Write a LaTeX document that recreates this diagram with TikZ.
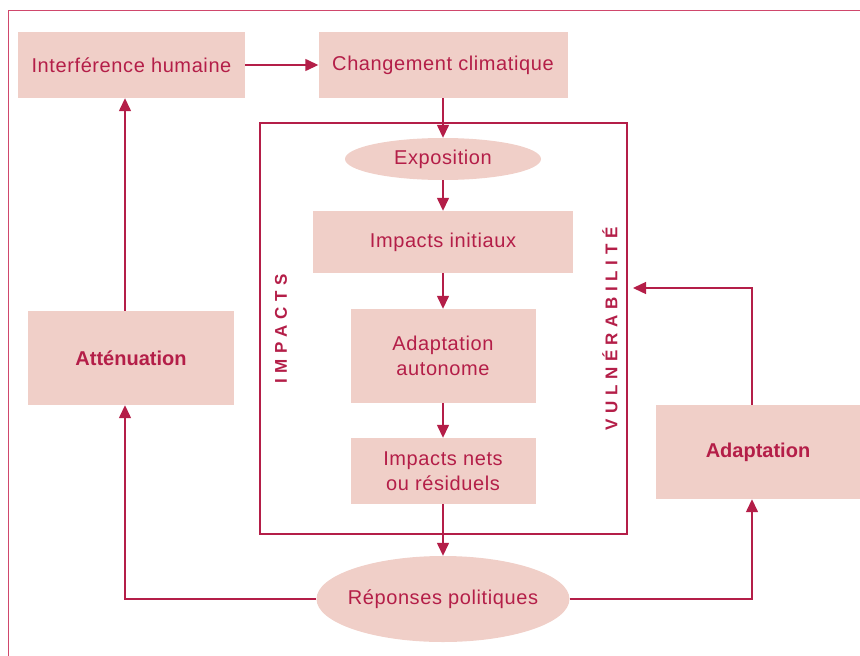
\documentclass[tikz,border=0pt]{standalone}
\usepackage{fontspec}
\setmainfont{Liberation Sans}
\usetikzlibrary{arrows.meta,shapes.geometric}
\definecolor{boxfill}{RGB}{240,207,200}
\definecolor{ink}{RGB}{180,30,72}
\definecolor{framecol}{RGB}{208,72,108}
\begin{document}
\begin{tikzpicture}[x=1pt,y=-1pt,
  txt/.style={text=ink,font=\fontsize{20}{25}\selectfont\addfontfeature{LetterSpace=3},align=center,inner sep=0pt},
  box/.style={txt,fill=boxfill,draw=none},
  boldbox/.style={box,font=\bfseries\fontsize{20}{25}\selectfont},
  oval/.style={fill=boxfill,draw=none,ellipse,inner sep=0pt},
  conn/.style={draw=ink,line width=1.4pt,-{Triangle[length=13pt,width=12pt]}},
  sidelabel/.style={rotate=90,text=ink,inner sep=0pt,font=\bfseries\fontsize{17}{17}\selectfont\addfontfeature{LetterSpace=33}}
]
\useasboundingbox (0,0) rectangle (860,656);
\draw[framecol,line width=1.5pt] (8.5,656) -- (8.5,10.5) -- (860,10.5);

\node[draw=ink,line width=1.3pt,minimum width=367pt,minimum height=411pt,inner sep=0pt] (inner) at (443.5,328.5) {};

\node[box,minimum width=227pt,minimum height=66pt] (ih) at (131.5,65) {Interférence humaine};
\node[box,minimum width=249pt,minimum height=66pt] (ch) at (443,65) {Changement climatique};
\node[oval,minimum width=196pt,minimum height=42pt,label={[txt]center:Exposition}] (ex) at (443,159) {};
\node[box,minimum width=260pt,minimum height=62pt] (ii) at (443,242) {Impacts initiaux};
\node[box,minimum width=185pt,minimum height=94pt] (aa) at (443,356) {Adaptation\\autonome};
\node[box,minimum width=185pt,minimum height=66pt] (nets) at (443,471) {Impacts nets\\ou résiduels};
\node[oval,minimum width=253pt,minimum height=86pt,label={[txt]center:Réponses politiques}] (rp) at (443,599) {};
\node[boldbox,minimum width=206pt,minimum height=94pt] (att) at (131,358) {Atténuation};
\node[boldbox,minimum width=204pt,minimum height=94pt] (ad) at (758,452) {Adaptation};

\node[sidelabel] (imp) at (281,329) {IMPACTS};
\node[sidelabel] (vul) at (610,329) {VULNÉRABILITÉ};

\coordinate (vt) at (633,288);

\draw[conn] (ih.east) -- (ch.west);
\draw[conn] (ch.south) -- (ex.north);
\draw[conn] (ex.south) -- (ii.north);
\draw[conn] (ii.south) -- (aa.north);
\draw[conn] (aa.south) -- (nets.north);
\draw[conn] (nets.south) -- (rp.north);
\draw[conn] ([xshift=-6pt]att.north) -- ([xshift=-6pt]att.north |- ih.south);
\draw[conn] (rp.west) -| ([xshift=-6pt]att.south);
\draw[conn] (rp.east) -| ([xshift=-6pt]ad.south);
\draw[conn] ([xshift=-6pt]ad.north) |- (vt);
\end{tikzpicture}
\end{document}
